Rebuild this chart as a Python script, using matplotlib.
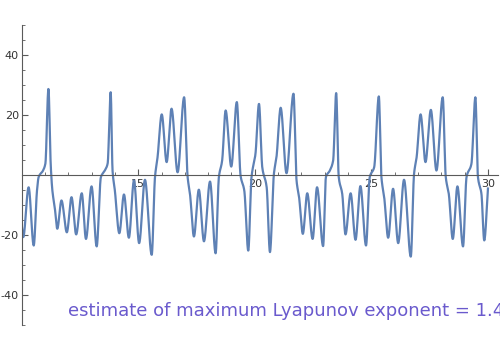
import numpy as np
import matplotlib
matplotlib.use("Agg")
import matplotlib.pyplot as plt

plt.rcParams["axes.unicode_minus"] = False

# values (time, signal)
t_vals = [10.00, 10.07, 10.30, 10.52, 10.66, 10.73, 10.92, 11.02, 11.15, 11.25,
          11.32, 11.42, 11.53, 11.71, 11.94, 12.14, 12.34, 12.58, 12.76, 13.00,
          13.22, 13.40, 13.57, 13.69, 13.82, 13.90, 14.00, 14.19, 14.39, 14.60,
          14.82, 15.04, 15.29, 15.58, 15.72, 15.83, 16.01, 16.22, 16.43, 16.69,
          16.97, 17.12, 17.22, 17.39, 17.60, 17.82, 18.08, 18.32, 18.46, 18.60,
          18.75, 18.99, 19.23, 19.39, 19.55, 19.72, 19.86, 20.03, 20.18, 20.32,
          20.51, 20.65, 20.82, 20.93, 21.11, 21.36, 21.66, 21.79, 21.90, 22.06,
          22.25, 22.48, 22.67, 22.93, 23.05, 23.22, 23.36, 23.49, 23.60, 23.75,
          23.89, 24.11, 24.32, 24.53, 24.77, 24.93, 25.12, 25.32, 25.43, 25.55,
          25.72, 25.93, 26.15, 26.40, 26.69, 26.83, 26.94, 27.11, 27.32, 27.55,
          27.79, 28.06, 28.19, 28.32, 28.49, 28.69, 28.93, 29.08, 29.29, 29.46,
          29.57, 29.72, 29.84, 30.00]
y_vals = [-16.2, -20.7, -4.1, -23.5, -5.2, -0.7, 1.5, 3.8, 28.7, 3.2,
          -5.2, -10.7, -17.9, -8.5, -19.1, -7.4, -19.8, -6.1, -21.3, -3.8,
          -23.8, -0.7, 1.5, 3.8, 27.6, 1.5, -5.2, -19.4, -6.5, -20.9,
          -1.8, -22.7, -1.6, -26.6, -0.7, 5.9, 20.2, 4.3, 22.1, 0.9,
          25.9, -0.7, -6.2, -20.5, -4.9, -22.1, -2.2, -26.1, -0.7, 4.8,
          21.5, 2.8, 24.3, -0.2, -5.2, -25.2, -0.7, 7.1, 23.7, 2.6,
          -4.1, -25.7, 0.4, 5.9, 22.4, 0.6, 27.1, -1.8, -7.4, -19.6,
          -6.1, -21.3, -4.1, -23.7, -0.7, 1.5, 4.8, 27.3, -0.7, -6.3,
          -19.8, -6.1, -21.6, -3.7, -23.5, -0.7, 2.6, 26.2, -0.7, -7.4,
          -20.9, -4.6, -22.7, -1.6, -27.2, 0.4, 5.9, 20.2, 4.3, 21.7,
          1.5, 25.9, -0.7, -6.3, -21.3, -3.8, -23.8, -0.7, 3.7, 25.9,
          -0.7, -6.3, -21.8, -4.5]

x_major = [15, 20, 25, 30]
y_major = [-40, -20, 20, 40]
label_text = "estimate of maximum Lyapunov exponent = 1.4"


def pchip(x, y, xn):
    x = np.asarray(x, float)
    y = np.asarray(y, float)
    h = np.diff(x)
    d = np.diff(y) / h
    n = len(x)
    m = np.zeros(n)
    for k in range(1, n - 1):
        if d[k - 1] * d[k] > 0:
            w1 = 2 * h[k] + h[k - 1]
            w2 = h[k] + 2 * h[k - 1]
            m[k] = (w1 + w2) / (w1 / d[k - 1] + w2 / d[k])
    m[0] = d[0]
    m[-1] = d[-1]
    idx = np.clip(np.searchsorted(x, xn) - 1, 0, n - 2)
    hk = h[idx]
    s = (xn - x[idx]) / hk
    h00 = 2 * s**3 - 3 * s**2 + 1
    h10 = s**3 - 2 * s**2 + s
    h01 = -2 * s**3 + 3 * s**2
    h11 = s**3 - s**2
    return h00 * y[idx] + h10 * hk * m[idx] + h01 * y[idx + 1] + h11 * hk * m[idx + 1]


tt = np.linspace(t_vals[0], t_vals[-1], 3000)
yy = pchip(t_vals, y_vals, tt)

fig = plt.figure(figsize=(5, 3.5), dpi=100)
ax = fig.add_axes([0.0432, 0.0714, 0.9528, 0.8572])
ax.plot(tt, yy, color="#5e81b5", lw=1.6, solid_joinstyle="round")

ax.set_xlim(10, 30.43)
ax.set_ylim(-50, 50)

axcol = "#5a5a5a"
for s in ["top", "right"]:
    ax.spines[s].set_visible(False)
ax.spines["bottom"].set_position(("data", 0))
ax.spines["left"].set_position(("data", 10))
for s in ["bottom", "left"]:
    ax.spines[s].set_color(axcol)
    ax.spines[s].set_linewidth(0.8)

ax.set_xticks(x_major)
ax.set_yticks(y_major)
ax.set_xticks(np.arange(11, 31, 1), minor=True)
ax.set_yticks(np.arange(-50, 51, 5), minor=True)
ax.tick_params(which="both", direction="in", colors=axcol, labelcolor="#333333",
               labelsize=8)
ax.tick_params(which="major", length=4, width=0.8)
ax.tick_params(which="minor", length=2.5, width=0.6)
ax.tick_params(axis="x", pad=3)
ax.tick_params(axis="y", pad=2)

fig.text(68 / 500, 1 - 311 / 350, label_text, color="#6a5acd", fontsize=13,
         va="center", ha="left")

fig.savefig("out.png", dpi=100)
